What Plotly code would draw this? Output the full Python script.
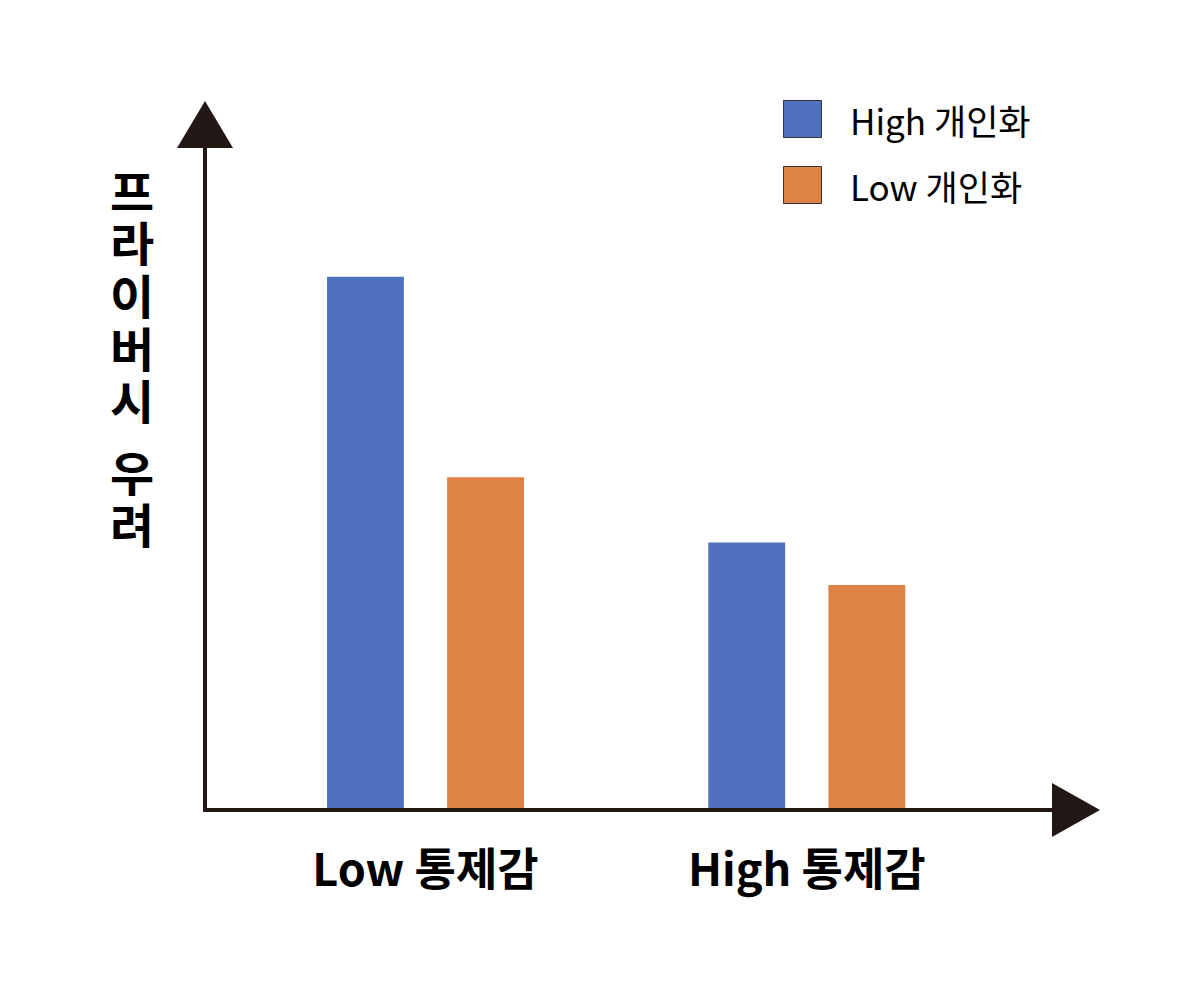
import plotly.graph_objects as go

categories = ["Low 통제감", "High 통제감"]
series_names = ["High 개인화", "Low 개인화"]
high_personal = [8.0, 4.0]
low_personal = [4.98, 3.36]
y_title = "프라이버시 우려"

colors = ["#4F71BE", "#DF8344"]
axis_color = "#231815"
font = "Noto Sans CJK KR"

W, H = 1200, 996
OFF = 8  # page body margin; target pixel coords below are for the screenshot
L, R, T, B = 204 - OFF, W - (1100 - OFF), 100 - OFF, H - (808 - OFF)


def px(x):
    return (x - OFF - L) / (W - L - R)


def py(y):
    return (H - B - (y - OFF)) / (H - T - B)


fig = go.Figure()
for name, vals, col in zip(series_names, [high_personal, low_personal], colors):
    fig.add_trace(go.Bar(
        x=categories, y=vals, name=name,
        marker=dict(color=col, line=dict(width=0)),
        showlegend=False,
    ))

shapes = [
    # axes
    dict(type="line", xref="paper", yref="paper", x0=px(205), x1=px(205),
         y0=py(812), y1=py(146), line=dict(color=axis_color, width=4)),
    dict(type="line", xref="paper", yref="paper", x0=px(203), x1=px(1054),
         y0=py(810), y1=py(810), line=dict(color=axis_color, width=4)),
    # arrow heads
    dict(type="path", xref="paper", yref="paper",
         path=f"M {px(177)} {py(148)} L {px(205)} {py(101)} L {px(233)} {py(148)} Z",
         fillcolor=axis_color, line=dict(width=0)),
    dict(type="path", xref="paper", yref="paper",
         path=f"M {px(1052)} {py(783)} L {px(1100)} {py(810)} L {px(1052)} {py(837)} Z",
         fillcolor=axis_color, line=dict(width=0)),
]

annotations = []
# legend drawn by hand (large squares)
for i, (name, col) in enumerate(zip(series_names, colors)):
    top = 100 + i * 66
    shapes.append(dict(type="rect", xref="paper", yref="paper",
                       x0=px(783.5), x1=px(821.5), y0=py(top + 37.5), y1=py(top + 0.5),
                       fillcolor=col, line=dict(color="#333333", width=1)))
    annotations.append(dict(xref="paper", yref="paper", x=px(848), y=py(top + 19),
                            text=name, showarrow=False, xanchor="left", yanchor="middle",
                            font=dict(family=font, size=35, color="black")))

# vertical stacked y-axis title
yc = 189
for ch in y_title:
    if ch == " ":
        yc += 19
        continue
    annotations.append(dict(xref="paper", yref="paper", x=px(132), y=py(yc),
                            text=ch, showarrow=False, xanchor="center", yanchor="middle",
                            height=50, valign="middle",
                            font=dict(family=font, size=48, color="black", weight="bold")))
    yc += 52.5

fig.update_layout(
    width=W, height=H,
    margin=dict(l=L, r=R, t=T, b=B, pad=0),
    paper_bgcolor="white", plot_bgcolor="white",
    barmode="group", bargap=0.37, bargroupgap=0.36,
    xaxis=dict(range=[-0.581, 1.769], showgrid=False, zeroline=False, showline=False,
               ticks="", ticklabelstandoff=32,
               tickfont=dict(family=font, size=45, color="black", weight="bold")),
    yaxis=dict(range=[0, 10.663], showgrid=False, zeroline=False, showline=False,
               showticklabels=False),
    shapes=shapes,
    annotations=annotations,
)

fig.write_html("out.html")
